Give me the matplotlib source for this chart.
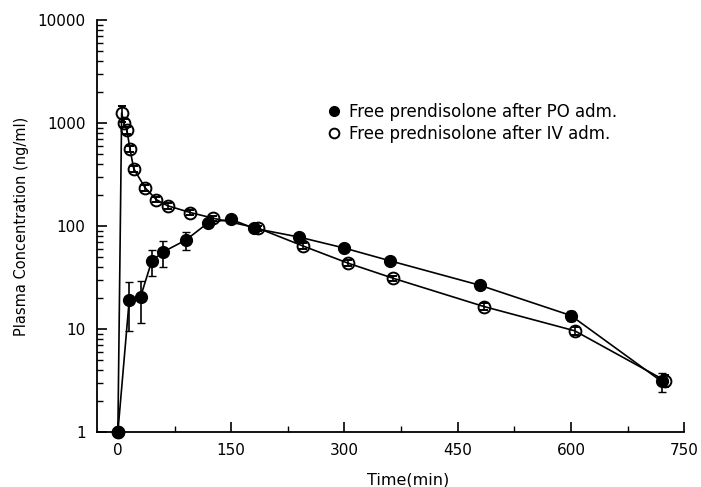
import numpy as np
import matplotlib.pyplot as plt
from matplotlib.lines import Line2D
from matplotlib.ticker import FixedLocator, NullFormatter, LogLocator

plt.rcParams["font.family"] = ["DejaVu Sans"]

# oral dose (filled circles)
t_po = [0, 15, 30, 45, 60, 90, 120, 150, 180, 240, 300, 360, 480, 600, 720]
c_po = [1, 19, 20.5, 46, 56, 73, 108, 116, 95, 78, 61, 46, 26.5, 13.5, 3.1]
e_po = [0, 9.5, 9, 13, 16, 15, 6, 8, 5, 5, 4, 3, 2, 1.5, 0.65]

# iv dose (open circles)
t_iv = [0, 5, 8, 12, 16, 21, 36, 51, 66, 96, 126, 186, 245, 305, 365, 485, 605, 725]
c_iv = [1, 1250, 1000, 850, 560, 360, 235, 180, 157, 135, 119, 95, 64, 43.5, 31, 16.5, 9.6, 3.15]
e_iv = [0, 220, 90, 60, 40, 25, 15, 10, 10, 8, 7, 6, 4, 3, 2, 1.2, 0.8, 0.4]

labels = ["Free prendisolone after PO adm.", "Free prednisolone after IV adm."]

fig = plt.figure(figsize=(7.01, 4.87), dpi=100)
ax = fig.add_axes([0.138, 0.113, 0.838, 0.846])

ax.errorbar(t_iv, c_iv, yerr=e_iv, fmt="o-", color="black", mfc="none", mec="black",
            ms=8.5, mew=1.4, lw=1.2, capsize=3, elinewidth=1.2, clip_on=False, zorder=3)
ax.errorbar(t_po, c_po, yerr=e_po, fmt="o-", color="black", mfc="black",
            ms=8.5, lw=1.2, capsize=3, elinewidth=1.2, clip_on=False, zorder=4)

ax.set_yscale("log")
ax.set_ylim(1, 10000)
ax.set_xlim(-28, 750)
ax.xaxis.set_major_locator(FixedLocator([0, 150, 300, 450, 600, 750]))
ax.xaxis.set_minor_locator(FixedLocator([75, 225, 375, 525, 675]))
ax.yaxis.set_major_locator(FixedLocator([1, 10, 100, 1000, 10000]))
ax.yaxis.set_minor_locator(LogLocator(base=10, subs=np.arange(2, 10)))
ax.yaxis.set_minor_formatter(NullFormatter())
ax.set_yticklabels(["1", "10", "100", "1000", "10000"])

for s in ["top", "right"]:
    ax.spines[s].set_visible(False)
for s in ["left", "bottom"]:
    ax.spines[s].set_linewidth(1.3)

ax.tick_params(which="major", direction="in", length=7, width=1.2, labelsize=11, pad=8)
ax.tick_params(which="minor", direction="in", length=4, width=1.0)

ax.set_xlabel("Time(min)", fontsize=11.5)
ax.xaxis.set_label_coords(0.53, -0.098)
ax.set_ylabel("Plasma Concentration (ng/ml)", fontsize=10.5)
ax.yaxis.set_label_coords(-0.115, 0.5)

handles = [
    Line2D([], [], ls="none", marker="o", color="black", mfc="black", ms=7),
    Line2D([], [], ls="none", marker="o", color="black", mfc="none", mew=1.4, ms=7),
]
ax.legend(handles, labels, loc="upper left", bbox_to_anchor=(0.365, 0.835),
          frameon=False, fontsize=12, handletextpad=0.4, handlelength=1.0,
          labelspacing=0.25)

fig.savefig("out.png", dpi=100)
